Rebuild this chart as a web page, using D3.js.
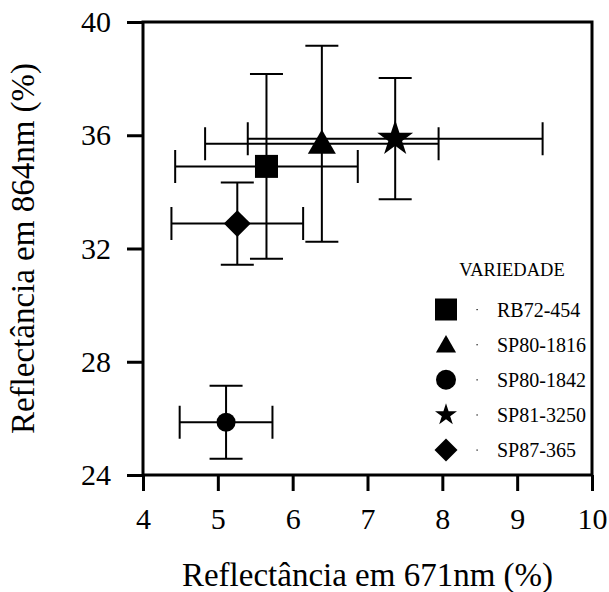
<!DOCTYPE html>
<html>
<head>
<meta charset="utf-8">
<script src="https://cdn.jsdelivr.net/npm/d3@7"></script>
<style>
  body { margin: 0; background: #fff; }
  svg text { font-family: "Liberation Serif", "Times New Roman", serif; fill: #000; }
</style>
</head>
<body>
<div id="chart"></div>
<script>
// Values
const varieties = ["RB72-454", "SP80-1816", "SP80-1842", "SP81-3250", "SP87-365"];
const red671 = [5.65, 6.39, 5.11, 7.37, 5.26];
const red671Err = [1.22, 1.56, 0.62, 1.97, 0.88];
const nir864 = [34.9, 35.7, 25.86, 35.88, 32.88];
const nir864Err = [3.26, 3.46, 1.29, 2.14, 1.45];
const symbolNames = ["square", "triangle", "circle", "star", "diamond"];
const xTicks = [4, 5, 6, 7, 8, 9, 10];
const yTicks = [24, 28, 32, 36, 40];

const width = 609;
const height = 592;
const margin = {top: 22, right: 17, bottom: 117, left: 143};
const serif = "Liberation Serif, Times New Roman, serif";

const svg = d3.select("#chart").append("svg")
  .attr("width", width)
  .attr("height", height)
  .attr("font-family", serif);

const x = d3.scaleLinear([4, 10], [margin.left, width - margin.right]);
const y = d3.scaleLinear([24, 40], [height - margin.bottom, margin.top]);

// symbol helpers
const symbolTypes = {
  square: d3.symbolSquare,
  triangle: d3.symbolTriangle,
  circle: d3.symbolCircle,
  star: d3.symbolStar,
  diamond: d3.symbolSquare,
};
const plotSizes = {square: 529, triangle: 340, circle: 284, star: 400, diamond: 361};
const legendSizes = {square: 484, triangle: 175, circle: 314, star: 150, diamond: 265};

function symbolPath(name, size) {
  return d3.symbol(symbolTypes[name], size)();
}

const data = varieties.map((name, i) => ({
  name,
  symbol: symbolNames[i],
  x: red671[i],
  xe: red671Err[i],
  y: nir864[i],
  ye: nir864Err[i],
}));

// axes
const xAxis = d3.axisBottom(x).tickValues(xTicks).tickSize(16).tickPadding(6).tickFormat(d3.format("d"));
const yAxis = d3.axisLeft(y).tickValues(yTicks).tickSize(16).tickPadding(16).tickFormat(d3.format("d"));

const gx = svg.append("g").attr("transform", `translate(0,${y(24)})`).call(xAxis);
const gy = svg.append("g").attr("transform", `translate(${x(4)},0)`).call(yAxis);

for (const g of [gx, gy]) {
  g.attr("font-family", serif);
  g.select(".domain").remove();
  g.selectAll(".tick line").attr("stroke", "#000").attr("stroke-width", 3);
  g.selectAll(".tick text").attr("font-size", 30);
}
gx.selectAll(".tick text").attr("dy", "1.05em");

// frame
svg.append("rect")
  .attr("x", x(4))
  .attr("y", y(40))
  .attr("width", x(10) - x(4))
  .attr("height", y(24) - y(40))
  .attr("fill", "none")
  .attr("stroke", "#000")
  .attr("stroke-width", 3);

// error bars
const cap = 16.5;
const bars = svg.append("g").attr("stroke", "#000").attr("stroke-width", 2).attr("fill", "none");
for (const d of data) {
  const cx = x(d.x), cy = y(d.y);
  const x0 = x(d.x - d.xe), x1 = x(d.x + d.xe);
  const y0 = y(d.y - d.ye), y1 = y(d.y + d.ye);
  bars.append("path").attr("d",
    `M${x0},${cy}H${x1}` +
    `M${x0},${cy - cap}V${cy + cap}` +
    `M${x1},${cy - cap}V${cy + cap}` +
    `M${cx},${y0}V${y1}` +
    `M${cx - cap},${y0}H${cx + cap}` +
    `M${cx - cap},${y1}H${cx + cap}`);
}

// markers
svg.append("g")
  .selectAll("path")
  .data(data)
  .join("path")
  .attr("d", (d) => symbolPath(d.symbol, plotSizes[d.symbol]))
  .attr("transform", (d) => {
    const t = `translate(${x(d.x)},${y(d.y) + (d.symbol === "triangle" ? 2 : 0)})`;
    return d.symbol === "diamond" ? t + " rotate(45)" : t;
  })
  .attr("fill", "#000");

// legend
const legend = svg.append("g");
legend.append("text")
  .attr("x", 512)
  .attr("y", 276)
  .attr("text-anchor", "middle")
  .attr("font-size", 18.5)
  .text("VARIEDADE");

const rowY = d3.scaleLinear([0, 4], [309.5, 450]);
const rows = legend.selectAll("g.row").data(data).join("g")
  .attr("class", "row")
  .attr("transform", (d, i) => `translate(0,${rowY(i)})`);

rows.append("path")
  .attr("d", (d) => symbolPath(d.symbol, legendSizes[d.symbol]))
  .attr("transform", (d) => {
    const t = `translate(446,${d.symbol === "triangle" ? 2 : 0})`;
    return d.symbol === "diamond" ? t + " rotate(45)" : t;
  })
  .attr("fill", "#000");

rows.append("rect")
  .attr("x", 476.5)
  .attr("y", -0.5)
  .attr("width", 1.2)
  .attr("height", 1.2)
  .attr("fill", "#000");

rows.append("text")
  .attr("x", 497)
  .attr("y", 7)
  .attr("font-size", 20)
  .text((d) => d.name);

// axis titles
svg.append("text")
  .attr("x", (x(4) + x(10)) / 2)
  .attr("y", 586)
  .attr("text-anchor", "middle")
  .attr("font-size", 33)
  .text("Reflectância em 671nm (%)");

svg.append("text")
  .attr("transform", `translate(34,${(y(24) + y(40)) / 2}) rotate(-90)`)
  .attr("text-anchor", "middle")
  .attr("font-size", 33)
  .text("Reflectância em 864nm (%)");
</script>
</body>
</html>
